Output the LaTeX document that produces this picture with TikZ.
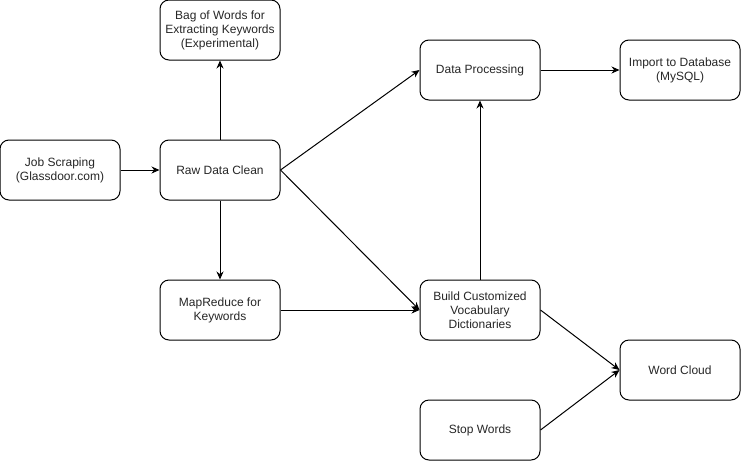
\documentclass[tikz,border=0pt]{standalone}
\usepackage{fontspec}
\setmainfont{Liberation Sans}
\usetikzlibrary{arrows.meta}
\begin{document}
\begin{tikzpicture}[x=1pt,y=-1pt,
  box/.style={draw, line width=1pt, rounded corners=9pt, minimum width=120pt, minimum height=60pt, align=center, inner sep=2pt, font=\fontsize{12}{14}\selectfont, text=black!85},
  arr/.style={-{Stealth[length=8pt,width=7pt]}, line width=1pt}]
\useasboundingbox (0,0) rectangle (741,461);
\node[box] (job) at (60,170) {Job Scraping\\(Glassdoor.com)};
\node[box] (raw) at (220,170) {Raw Data Clean};
\node[box] (bag) at (220,30) {Bag of Words for\\Extracting Keywords\\(Experimental)};
\node[box] (map) at (220,310) {MapReduce for\\Keywords};
\node[box] (dp) at (480,70) {Data Processing};
\node[box] (imp) at (680,70) {Import to Database\\(MySQL)};
\node[box] (build) at (480,310) {Build Customized\\Vocabulary\\Dictionaries};
\node[box] (wc) at (680,370) {Word Cloud};
\node[box] (stop) at (480,430) {Stop Words};
\draw[arr] (job) -- (raw);
\draw[arr] (raw) -- (bag);
\draw[arr] (raw) -- (map);
\draw[arr] (raw.east) -- (dp.west);
\draw[arr] (raw.east) -- (build.west);
\draw[arr] (map) -- (build);
\draw[arr] (build) -- (dp);
\draw[arr] (dp) -- (imp);
\draw[arr] (build.east) -- (wc.west);
\draw[arr] (stop.east) -- (wc.west);
\end{tikzpicture}
\end{document}
